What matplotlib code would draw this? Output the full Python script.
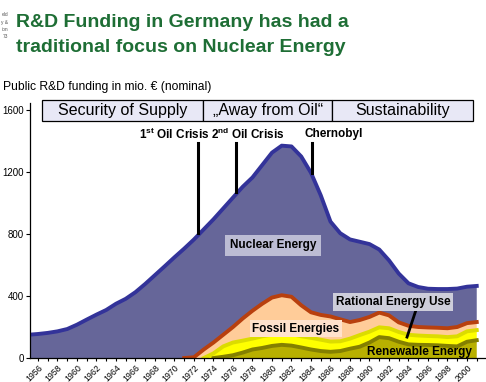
import numpy as np
import matplotlib.pyplot as plt
from matplotlib.patches import Rectangle

plt.rcParams['font.family'] = ['Liberation Sans', 'DejaVu Sans']
plt.rcParams['mathtext.fontset'] = 'custom'
plt.rcParams['mathtext.rm'] = 'Liberation Sans'
plt.rcParams['mathtext.bf'] = 'Liberation Sans:bold'

# funding in mio. EUR per year
years = np.arange(1955, 2002)
nuclear = [150, 155, 162, 172, 187, 215, 248, 280, 310, 350, 382, 425, 478, 535, 592, 650, 706,
           760, 775, 795, 815, 835, 850, 860, 895, 935, 965, 970, 960, 900, 772, 612, 555, 533,
           505, 470, 407, 355, 315, 274, 258, 250, 250, 253, 248, 235, 233]
fossil = [0] * 17 + [5, 55, 70, 75, 100, 143, 180, 210, 240, 247, 240, 200, 165, 160, 162, 142,
                     107, 97, 95, 95, 83, 62, 58, 55, 55, 55, 57, 60, 53, 52]
rational = [0] * 19 + [30, 67, 82, 77, 70, 75, 72, 73, 75, 72, 75, 73, 66, 63, 65, 75, 70, 63,
                       64, 63, 62, 60, 58, 58, 57, 65, 67, 65]
renewable = [0] * 20 + [8, 18, 35, 55, 65, 78, 85, 80, 68, 55, 45, 40, 45, 60, 73, 100, 135, 128,
                        105, 88, 85, 84, 82, 78, 75, 105, 115]

eras = ["Security of Supply", "\u201eAway from Oil\u201c", "Sustainability"]
era_bounds = [1956.4, 1972.9, 1986.2, 2000.6]
events = [r"1$^{\mathbf{st}}$ Oil Crisis", r"2$^{\mathbf{nd}}$ Oil Crisis", "Chernobyl"]
event_years = [1972.4, 1976.3, 1984.1]
event_label_x = [1969.95, 1977.5, 1986.3]

fill_colors = ['#B8B000', '#FFFF00', '#FFCC99', '#666699']
line_colors = ['#848000', '#DCDC00', '#B8400E', '#333399']

fig = plt.figure(figsize=(4.86, 3.82), dpi=100)
ax = fig.add_axes([0.0617, 0.0628, 0.9383, 0.6675])

layers = [np.array(renewable), np.array(rational), np.array(fossil), np.array(nuclear)]
ax.stackplot(years, *layers, colors=fill_colors, linewidth=0)

cum = np.cumsum(layers, axis=0)
for vals, top, lc in zip(layers, cum, line_colors):
    show = (vals > 0) | (np.roll(vals, -1) > 0)
    ax.plot(years, np.where(show, top, np.nan), color=lc, lw=2.8, solid_joinstyle='round')

ax.set_xlim(1955.18, 2001.95)
ax.set_ylim(0, 1645)
ax.set_xticks(range(1956, 2001, 2))
ax.set_xticks(range(1956, 2002), minor=True)
ax.set_xticklabels([str(y) for y in range(1956, 2001, 2)], rotation=45, ha='right',
                   va='top', rotation_mode='anchor')
ax.set_yticks([0, 400, 800, 1200, 1600])
ax.tick_params(axis='y', labelsize=7, length=3, width=0.8, pad=1.5)
ax.tick_params(axis='x', labelsize=6.3, length=2.5, width=0.8, pad=1)
ax.tick_params(axis='x', which='minor', length=2.5, width=0.8)
for s in ['top', 'right']:
    ax.spines[s].set_visible(False)
ax.spines['left'].set_linewidth(0.9)
ax.spines['bottom'].set_linewidth(0.9)

# era header boxes
for i, name in enumerate(eras):
    x0, x1 = era_bounds[i], era_bounds[i + 1]
    ax.add_patch(Rectangle((x0, 1529), x1 - x0, 136, facecolor='#E8E8F6', edgecolor='black',
                           lw=0.9, clip_on=False, zorder=5))
    ax.text((x0 + x1) / 2, 1597, name, ha='center', va='center', fontsize=11.5, zorder=6)

# events
for lab, ex, lx in zip(events, event_years, event_label_x):
    bottom = np.interp(ex, years, cum[-1]) + 15
    ax.plot([ex, ex], [bottom, 1387], color='black', lw=2.2)
    ax.text(lx, 1445, lab, ha='center', va='center', fontsize=8.5, fontweight='bold')

ax.text(1980.1, 726, "Nuclear Energy", ha='center', va='center', fontsize=8.5,
        fontweight='bold', bbox=dict(boxstyle='square,pad=0.4', fc='#BCBCD4', ec='none'))
ax.text(1992.4, 361, "Rational Energy Use", ha='center', va='center', fontsize=8.5,
        fontweight='bold', bbox=dict(boxstyle='square,pad=0.25', fc='#CDCDDA', ec='none'))
ax.plot([1994.77, 1993.85], [310, 135], color='black', lw=2)
ax.text(1982.46, 190, "Fossil Energies", ha='center', va='center', fontsize=8.5,
        fontweight='bold', bbox=dict(boxstyle='square,pad=0.2', fc='#FFE2CC', ec='none'))
ax.text(1989.75, 39, "Renewable Energy", ha='left', va='center', fontsize=8.5,
        fontweight='bold', clip_on=False)

# titles and small notes
fig.text(0.033, 1 - 27 / 382, "R&D Funding in Germany has had a", fontsize=14,
         fontweight='bold', color='#1E6E35', va='baseline')
fig.text(0.033, 1 - 52 / 382, "traditional focus on Nuclear Energy", fontsize=14,
         fontweight='bold', color='#1E6E35', va='baseline')
for i, s in enumerate(["eld", "y &", "ion", "73"]):
    fig.text(8 / 486, 1 - (15 + 7.3 * i) / 382, s, fontsize=3.5, color='#555555',
             ha='right', va='center')
fig.text(3 / 486, 1 - 90 / 382, "Public R&D funding in mio. \u20ac (nominal)", fontsize=8.7,
         va='baseline')

fig.savefig('out.png', dpi=100)
